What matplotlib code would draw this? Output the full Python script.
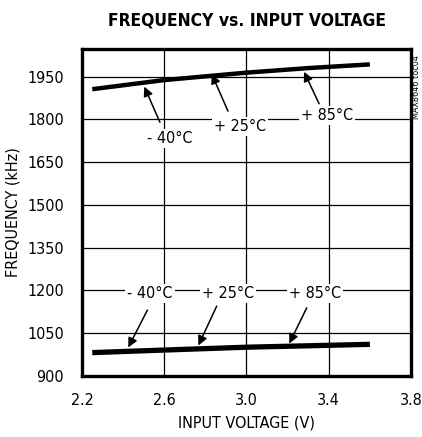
import numpy as np
import matplotlib.pyplot as plt

# datos
v_alto = [2.25, 2.6, 3.0, 3.3, 3.6]
f_alto = [1906, 1938, 1964, 1980, 1993]
v_bajo = [2.25, 2.6, 3.0, 3.3, 3.6]
f_bajo = [982, 991, 1001, 1006, 1011]

etiquetas = ['- 40°C', '+ 25°C', '+ 85°C']
# (texto x, texto y, inicio flecha x, inicio y, punta x, punta y)
notas_alto = [(2.628, 1734, 2.579, 1790, 2.503, 1915),
              (2.968, 1776, 2.910, 1829, 2.831, 1959),
              (3.392, 1813, 3.353, 1855, 3.280, 1967)]
notas_bajo = [(2.531, 1189, 2.518, 1131, 2.425, 1000),
              (2.910, 1190, 2.855, 1145, 2.766, 1007),
              (3.333, 1189, 3.293, 1139, 3.208, 1014)]

xticks = [2.2, 2.6, 3.0, 3.4, 3.8]
yticks = [900, 1050, 1200, 1350, 1500, 1650, 1800, 1950]

plt.rcParams['font.family'] = ['DejaVu Sans']
plt.rcParams['font.stretch'] = 'condensed'

fig = plt.figure(figsize=(4.22, 4.37), dpi=100)
ax = fig.add_axes([0.1943, 0.1396, 0.7796, 0.7483])

ax.plot(v_alto, f_alto, color='black', lw=3.2, solid_capstyle='butt', zorder=3)
ax.plot(v_bajo, f_bajo, color='black', lw=3.8, solid_capstyle='butt', zorder=3)

for notas in (notas_alto, notas_bajo):
    for lab, (tx, ty, ax0, ay0, px, py) in zip(etiquetas, notas):
        ax.text(tx, ty, lab, ha='center', va='center', fontsize=11.5,
                bbox=dict(facecolor='white', edgecolor='none', pad=1.5), zorder=4)
        ax.annotate('', xy=(px, py), xytext=(ax0, ay0),
                    arrowprops=dict(arrowstyle='-|>', color='black', lw=1.1,
                                    mutation_scale=14, shrinkA=0, shrinkB=0),
                    zorder=4)

ax.set_xlim(2.2, 3.8)
ax.set_ylim(900, 2047)
ax.set_xticks(xticks)
ax.set_xticklabels(['%.1f' % x for x in xticks])
ax.set_yticks(yticks)
ax.tick_params(length=0, labelsize=11.5)
ax.tick_params(axis='x', pad=12)
ax.tick_params(axis='y', pad=13)
ax.grid(True, color='black', lw=0.9)
for s in ax.spines.values():
    s.set_linewidth(2.4)

ax.set_xlabel('INPUT VOLTAGE (V)', fontsize=11.5, labelpad=6)
ax.set_ylabel('FREQUENCY (kHz)', fontsize=11.5, labelpad=5)
fig.text(0.585, 0.953, 'FREQUENCY vs. INPUT VOLTAGE', ha='center', va='center',
         fontsize=12.5, fontweight='bold')
fig.text(0.988, 0.80, 'MAX8646 toc04', rotation=90, ha='center', va='center',
         fontsize=6.5)

plt.savefig('out.png', dpi=100)
plt.close()
